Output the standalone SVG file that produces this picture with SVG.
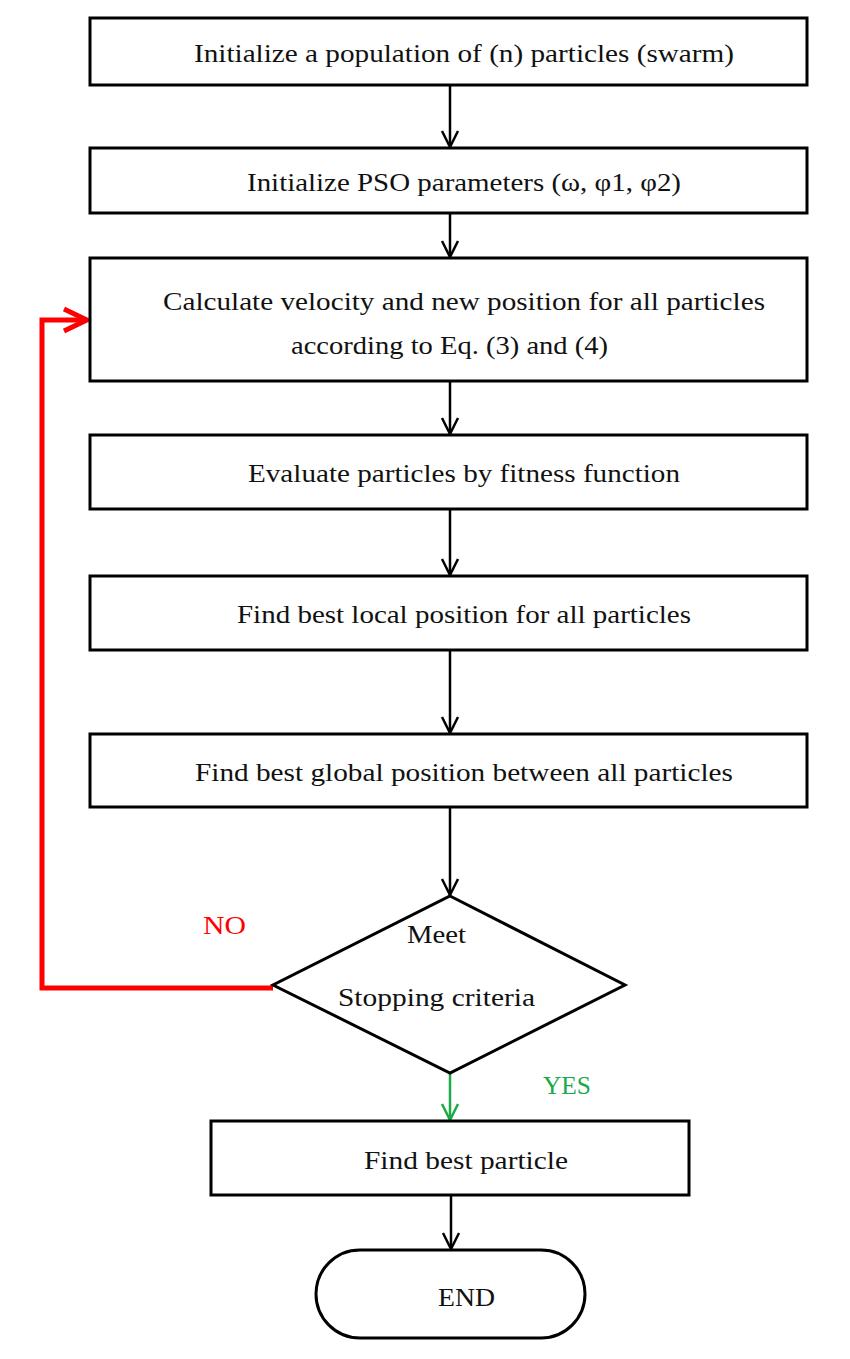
<svg xmlns="http://www.w3.org/2000/svg" width="850" height="1359" viewBox="0 0 850 1359">
<style>
.box{fill:#fff;stroke:#000;stroke-width:3}
.t{font-family:"Liberation Serif","DejaVu Serif",serif;font-size:26px;fill:#111}
.c{fill:none;stroke:#000;stroke-width:2.5}
</style>
<defs>
<marker id="ah" markerUnits="userSpaceOnUse" viewBox="0 0 20 20" refX="18" refY="10" markerWidth="20" markerHeight="20" orient="auto">
<path d="M2,2 L18,10 L2,18" fill="none" stroke="#000" stroke-width="2.5"/>
</marker>
<marker id="ahg" markerUnits="userSpaceOnUse" viewBox="0 0 20 20" refX="18" refY="10" markerWidth="20" markerHeight="20" orient="auto">
<path d="M2,2 L18,10 L2,18" fill="none" stroke="#1aaa4a" stroke-width="2.5"/>
</marker>
<marker id="ahr" markerUnits="userSpaceOnUse" viewBox="0 0 30 30" refX="27" refY="15" markerWidth="30" markerHeight="30" orient="auto">
<path d="M4,4 L27,15 L4,26" fill="none" stroke="#f00" stroke-width="5"/>
</marker>
</defs>
<g id="connectors">
<line class="c" x1="450" y1="85" x2="450" y2="147" marker-end="url(#ah)"/>
<line class="c" x1="450" y1="213" x2="450" y2="257" marker-end="url(#ah)"/>
<line class="c" x1="450" y1="381" x2="450" y2="434" marker-end="url(#ah)"/>
<line class="c" x1="450" y1="509" x2="450" y2="575" marker-end="url(#ah)"/>
<line class="c" x1="450" y1="650" x2="450" y2="733" marker-end="url(#ah)"/>
<line class="c" x1="450" y1="807" x2="450" y2="895" marker-end="url(#ah)"/>
<line x1="450" y1="1073" x2="450" y2="1120" stroke="#1aaa4a" stroke-width="2.5" marker-end="url(#ahg)"/>
<line class="c" x1="451" y1="1195" x2="451" y2="1249" marker-end="url(#ah)"/>
<polyline points="273,988 42,988 42,320 87,320" fill="none" stroke="#f00" stroke-width="5" marker-end="url(#ahr)"/>
</g>
<g id="n1"><rect class="box" x="90" y="18" width="717" height="67"/><text class="t" x="194" y="62" textLength="540" lengthAdjust="spacingAndGlyphs">Initialize a population of (n) particles (swarm)</text></g>
<g id="n2"><rect class="box" x="90" y="148" width="717" height="65"/><text class="t" x="247" y="191" textLength="434" lengthAdjust="spacingAndGlyphs">Initialize PSO parameters (ω, φ1, φ2)</text></g>
<g id="n3"><rect class="box" x="90" y="258" width="717" height="123"/><text class="t" x="163" y="310" textLength="602" lengthAdjust="spacingAndGlyphs">Calculate velocity and new position for all particles</text><text class="t" x="291" y="354" textLength="317" lengthAdjust="spacingAndGlyphs">according to Eq. (3) and (4)</text></g>
<g id="n4"><rect class="box" x="90" y="435" width="717" height="74"/><text class="t" x="248" y="482" textLength="432" lengthAdjust="spacingAndGlyphs">Evaluate particles by fitness function</text></g>
<g id="n5"><rect class="box" x="90" y="576" width="717" height="74"/><text class="t" x="237" y="623" textLength="454" lengthAdjust="spacingAndGlyphs">Find best local position for all particles</text></g>
<g id="n6"><rect class="box" x="90" y="734" width="717" height="73"/><text class="t" x="195" y="781" textLength="538" lengthAdjust="spacingAndGlyphs">Find best global position between all particles</text></g>
<g id="n7"><polygon class="box" points="450,896 625,985 450,1073 273,985"/><text class="t" x="407" y="943" textLength="59" lengthAdjust="spacingAndGlyphs">Meet</text><text class="t" x="338" y="1006" textLength="197" lengthAdjust="spacingAndGlyphs">Stopping criteria</text></g>
<g id="n8"><rect class="box" x="211" y="1121" width="478" height="74"/><text class="t" x="364" y="1169" textLength="204" lengthAdjust="spacingAndGlyphs">Find best particle</text></g>
<g id="n9"><rect class="box" x="316" y="1250" width="269" height="88" rx="44" ry="44"/><text class="t" x="438" y="1306" textLength="57" lengthAdjust="spacingAndGlyphs">END</text></g>
<g id="labels"><text class="t" x="203" y="934" style="fill:#f00" textLength="43" lengthAdjust="spacingAndGlyphs">NO</text><text class="t" x="543" y="1094" style="fill:#1aaa4a" textLength="48" lengthAdjust="spacingAndGlyphs">YES</text></g>
</svg>
